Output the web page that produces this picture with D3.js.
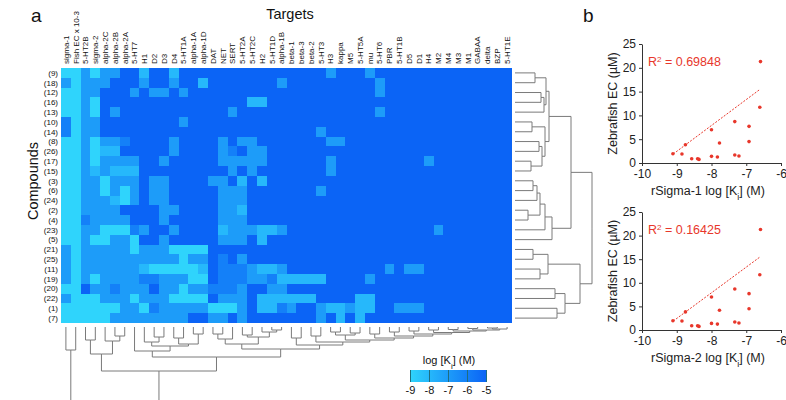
<!DOCTYPE html>
<html>
<head>
<meta charset="utf-8">
<script src="https://cdn.jsdelivr.net/npm/d3@7"></script>
<style>
body { margin: 0; background: #fff; }
text { font-family: Arial, "Liberation Sans", sans-serif; }
</style>
</head>
<body>
<div id="chart"></div>
<script>
// heatmap rows (compounds) and columns (targets)
var compounds = ["(9)","(18)","(12)","(16)","(13)","(10)","(14)","(8)","(26)","(17)","(15)","(3)","(6)",
	"(24)","(2)","(4)","(23)","(5)","(21)","(25)","(11)","(19)","(20)","(22)","(1)","(7)"];
var targets = ["sigma-1","Fish EC x 10-3","5-HT2B","sigma-2","alpha-2C","alpha-2B","alpha-2A","5-HT7","H1","D2",
	"D3","D4","5-HT1A","alpha-1A","alpha-1D","DAT","NET","SERT","5-HT2A","5-HT2C","H2","5-HT1D","alpha-1B",
	"beta-1","beta-3","beta-2","5-HT3","H3","kappa","M5","5-HT5A","mu","5-HT6","PBR","5-HT1B","D5","D1","H4",
	"M2","M4","M3","M1","GABAA","delta","BZP","5-HT1E"];

// one string per compound, one digit per target (groups of 10): digit d means log Ki = -d
var logKiRows = [
	"9979775585 5855555555 5555555755 5755555555 555555",
	"7977755575 5755855555 5575555555 5575555555 555555",
	"9977555757 7575555555 5555555555 5575555555 555555",
	"9979555555 5555555558 8555555555 5555555555 555555",
	"9979575555 5555555755 5555555555 5575555555 555555",
	"6977555555 5575555555 5555555555 5555555555 555555",
	"6977555555 5555555555 5555557555 5555555555 555555",
	"9979776555 5755557577 5555555775 5555555555 555555",
	"9979885555 5755557657 7555555555 5555555555 555555",
	"9979777755 7555557777 7555555755 5555555755 555555",
	"9978788855 5555555757 5555555755 5555555555 555555",
	"9977977757 7555577585 8555555555 5555555555 555555",
	"9977979757 7555557775 5555557555 5555555555 555555",
	"9977789757 7555557775 5555555555 5555555555 555555",
	"9977775555 7755557785 5555555555 5555555555 555555",
	"9967777555 7555557775 5555555555 5555555555 555555",
	"9977999675 5755558777 8875555555 5555555575 555555",
	"9979977955 7555557775 8555555555 5555555555 555555",
	"7977777977 7999955555 5555555555 5555555555 555555",
	"7977777777 7797756575 5555555555 5555555555 555555",
	"7977777789 9999856667 8875555555 5557577555 555555",
	"7979777766 7779956667 7688888555 5755555555 555555",
	"9957767775 7797766675 5775555555 5555555555 555555",
	"7999777977 7999957775 8888885555 8855555555 555555",
	"9999997796 7777799975 8867557887 8855777555 555555",
	"9999977777 7775577575 5555557585 8555555555 555555"
];
var legendTicks = [-9, -8, -7, -6, -5];

// dendrograms: [height, left, right], leaves are row / column indices
var rowTree = [7.7,
	[5.6,
		[3.4, [3.1, [2.0, 0, 1], [2.9, [2.6, 2, 3], 4]], [3.0, [1.7, 5, 6], [2.7, [2.4, 7, 8], [1.6, 9, 10]]]],
		[3.7, [3.0, [2.5, [2.2, [1.8, 11, 12], 13], [1.3, 14, 15]], 16], 17]],
	[6.5, [3.3, [1.8, 18, 19], [2.5, 20, 21]], [5.0, [4.0, 22, 23], [4.2, 24, 25]]]];
var colTree = [10, [2.3, 0, 1], [4.4,
	[2.7, [1.3, 2, 3], [1.4, 4, [0.9, 5, 6]]],
	[3.0,
		[2.4, 7, [1.9, [1.5, 8, [1.0, 9, 10]], [1.7, [1.1, 11, 12], [0.7, 13, 14]]]],
		[2.2,
			[1.7, [1.2, [0.7, 15, 16], 17], [1.0, [0.8, 18, 19], [0.5, 20, [0.3, 21, 22]]]],
			[1.8, [1.1, 23, 24], [1.5, [0.9, 25, 26], [1.3, [0.8, [0.5, 27, 28], [0.6, 29, 30]],
				[1.1, [0.7, 31, 32], [0.9, [0.5, 33, 34], [0.7, [0.4, 35, 36], [0.55, [0.3, 37, 38],
					[0.4, [0.25, 39, 40], [0.3, [0.15, 41, 42], [0.2, [0.1, 43, 44], 45]]]]]]]]]]]]]];

// panel b scatter data
var ecValues = [1.95, 1.9, 3.84, 0.9, 0.9, 0.76, 7.0, 1.4, 1.25, 4.2, 8.7, 1.68, 1.47, 7.7, 4.5, 21.3, 11.7];
var sigma1LogKi = [-9.11, -8.85, -8.75, -8.57, -8.4, -8.36, -8.0, -8.0, -7.83, -7.77, -7.33, -7.33, -7.21, -6.92, -6.92, -6.59, -6.61];
var sigma2LogKi = [-9.11, -8.85, -8.75, -8.57, -8.4, -8.36, -8.0, -8.0, -7.83, -7.77, -7.33, -7.33, -7.21, -6.92, -6.92, -6.59, -6.61];
var fitX = [-9.1, -6.6];
var fit1Y = [1.9, 15.5];
var fit2Y = [1.9, 15.5];
var r2Values = ["0.69848", "0.16425"];
var xTicks = [-10, -9, -8, -7, -6];
var yTicks = [0, 5, 10, 15, 20, 25];

var svg = d3.select("#chart").append("svg")
	.attr("width", 786)
	.attr("height", 400);

//////////////////////////////////////////////////////////
// heatmap
var xCol = d3.scaleBand().domain(d3.range(targets.length)).range([61, 512]);
var yRow = d3.scaleBand().domain(d3.range(compounds.length)).range([68, 323]);
var color = d3.scaleLinear().domain([-9, -5]).range(["#2fd4fc", "#0b64f6"]);

var cells = [];
logKiRows.forEach(function(row, r) {
	row.replace(/ /g, "").split("").forEach(function(ch, c) {
		cells.push({r: r, c: c, v: -(+ch)});
	});
});

svg.append("g").selectAll("rect")
	.data(cells)
	.enter()
	.append("rect")
	.attr("x", function(d) { return xCol(d.c); })
	.attr("y", function(d) { return yRow(d.r); })
	.attr("width", xCol.bandwidth() + 0.3)
	.attr("height", yRow.bandwidth() + 0.3)
	.attr("fill", function(d) { return color(d.v); })
	.attr("shape-rendering", "crispEdges");

// column labels
svg.append("g").selectAll("text")
	.data(targets)
	.enter()
	.append("text")
	.attr("transform", function(d, i) {
		return "translate(" + (xCol(i) + xCol.bandwidth() / 2) + ",64) rotate(-90)";
	})
	.attr("dy", "0.35em")
	.style("font-size", "8px")
	.style("fill", "#111")
	.text(function(d) { return d; });

// row labels
svg.append("g").selectAll("text")
	.data(compounds)
	.enter()
	.append("text")
	.attr("x", 58)
	.attr("y", function(d, i) { return yRow(i) + yRow.bandwidth() / 2; })
	.attr("dy", "0.35em")
	.attr("text-anchor", "end")
	.style("font-size", "8px")
	.style("fill", "#111")
	.text(function(d) { return d; });

svg.append("text").attr("x", 290).attr("y", 19).attr("text-anchor", "middle")
	.style("font-size", "14.5px").style("fill", "#111").text("Targets");
svg.append("text").attr("transform", "translate(38,181) rotate(-90)").attr("text-anchor", "middle")
	.style("font-size", "14.5px").style("fill", "#111").text("Compounds");
svg.append("text").attr("x", 31).attr("y", 22).style("font-size", "19px").style("fill", "#111").text("a");
svg.append("text").attr("x", 583).attr("y", 22).style("font-size", "19px").style("fill", "#111").text("b");

//////////////////////////////////////////////////////////
// dendrograms
function layoutTree(tree, leafPos) {
	var root = d3.hierarchy(tree, function(d) { return Array.isArray(d) ? d.slice(1) : null; });
	root.eachAfter(function(n) {
		if (n.children) {
			n.pos = d3.mean(n.children, function(c) { return c.pos; });
			n.h = n.data[0];
		} else {
			n.pos = leafPos(n.data);
			n.h = 0;
		}
	});
	return root;
}

var rowH = d3.scaleLinear().domain([0, 7.7]).range([515, 592]);
var rowRoot = layoutTree(rowTree, function(i) { return yRow(i) + yRow.bandwidth() / 2; });
svg.append("g").selectAll("path")
	.data(rowRoot.links())
	.enter()
	.append("path")
	.attr("d", function(l) {
		return "M" + rowH(l.target.h) + "," + l.target.pos + "H" + rowH(l.source.h) + "V" + l.source.pos;
	})
	.style("fill", "none")
	.style("stroke", "#7a7a7a")
	.style("stroke-width", 1);

var colH = d3.scaleLinear().domain([0, 10]).range([327, 427]);
var colRoot = layoutTree(colTree, function(i) { return xCol(i) + xCol.bandwidth() / 2; });
svg.append("g").selectAll("path")
	.data(colRoot.links())
	.enter()
	.append("path")
	.attr("d", function(l) {
		return "M" + l.target.pos + "," + colH(l.target.h) + "V" + colH(l.source.h) + "H" + l.source.pos;
	})
	.style("fill", "none")
	.style("stroke", "#7a7a7a")
	.style("stroke-width", 1);

//////////////////////////////////////////////////////////
// colour legend
var legX = d3.scaleLinear().domain([-9, -5]).range([410, 486]);
var grad = svg.append("defs").append("linearGradient").attr("id", "legGrad");
grad.selectAll("stop")
	.data(legendTicks)
	.enter()
	.append("stop")
	.attr("offset", function(d) { return ((d + 9) / 4 * 100) + "%"; })
	.attr("stop-color", function(d) { return color(d); });
svg.append("rect").attr("x", 410).attr("y", 370).attr("width", 76).attr("height", 12)
	.attr("fill", "url(#legGrad)");
var legAxis = svg.append("g").attr("transform", "translate(0,382)")
	.call(d3.axisBottom(legX).tickValues(legendTicks).tickSize(-12).tickPadding(4)
		.tickFormat(function(d) { return String(d); }));
legAxis.select(".domain").remove();
legAxis.selectAll("line").style("stroke", "#1f6e7e");
legAxis.selectAll("text").style("font-size", "11px").style("fill", "#111")
	.style("font-family", "Arial, 'Liberation Sans', sans-serif");
var legTitle = svg.append("text").attr("x", 449).attr("y", 364).attr("text-anchor", "middle")
	.style("font-size", "11px").style("fill", "#111");
legTitle.append("tspan").text("log [K");
legTitle.append("tspan").attr("baseline-shift", "sub").style("font-size", "8px").text("i");
legTitle.append("tspan").text("] (M)");

//////////////////////////////////////////////////////////
// scatter plots
function drawScatter(top, bottom, xs, fitY, r2, name) {
	var sx = d3.scaleLinear().domain([-10, -6]).range([642, 781]);
	var sy = d3.scaleLinear().domain([0, 25]).range([bottom, top]);
	var g = svg.append("g");

	var ax = g.append("g").attr("transform", "translate(0," + bottom + ")")
		.call(d3.axisBottom(sx).tickValues(xTicks).tickSize(3).tickSizeOuter(0)
			.tickFormat(function(d) { return String(d); }));
	var ay = g.append("g").attr("transform", "translate(642,0)")
		.call(d3.axisLeft(sy).tickValues(yTicks).tickSize(3).tickSizeOuter(0));
	[ax, ay].forEach(function(a) {
		a.selectAll("text").style("font-size", "12px").style("fill", "#222")
			.style("font-family", "Arial, 'Liberation Sans', sans-serif");
		a.selectAll("line, path").style("stroke", "#333");
	});

	g.append("line")
		.attr("x1", sx(fitX[0])).attr("y1", sy(fitY[0]))
		.attr("x2", sx(fitX[1])).attr("y2", sy(fitY[1]))
		.style("stroke", "#e8372b").style("stroke-width", 1).style("stroke-dasharray", "2,1.5");

	g.selectAll("circle")
		.data(xs)
		.enter()
		.append("circle")
		.attr("cx", function(d) { return sx(d); })
		.attr("cy", function(d, i) { return sy(ecValues[i]); })
		.attr("r", 1.8)
		.style("fill", "#e8372b");

	var rt = g.append("text").attr("x", 648).attr("y", top + 22)
		.style("font-size", "12.5px").style("fill", "#e8372b");
	rt.append("tspan").text("R");
	rt.append("tspan").attr("baseline-shift", "super").style("font-size", "8px").text("2");
	rt.append("tspan").text(" = " + r2);

	var xt = g.append("text").attr("x", 708).attr("y", bottom + 32).attr("text-anchor", "middle")
		.style("font-size", "12.5px").style("fill", "#222");
	xt.append("tspan").text(name + " log [K");
	xt.append("tspan").attr("baseline-shift", "sub").style("font-size", "9px").text("i");
	xt.append("tspan").text("] (M)");

	g.append("text")
		.attr("transform", "translate(617," + ((top + bottom) / 2) + ") rotate(-90)")
		.attr("text-anchor", "middle")
		.style("font-size", "12.5px").style("fill", "#222")
		.text("Zebrafish EC (\u00b5M)");
}

drawScatter(44, 163, sigma1LogKi, fit1Y, r2Values[0], "rSigma-1");
drawScatter(212, 330, sigma2LogKi, fit2Y, r2Values[1], "rSigma-2");
</script>
</body>
</html>
